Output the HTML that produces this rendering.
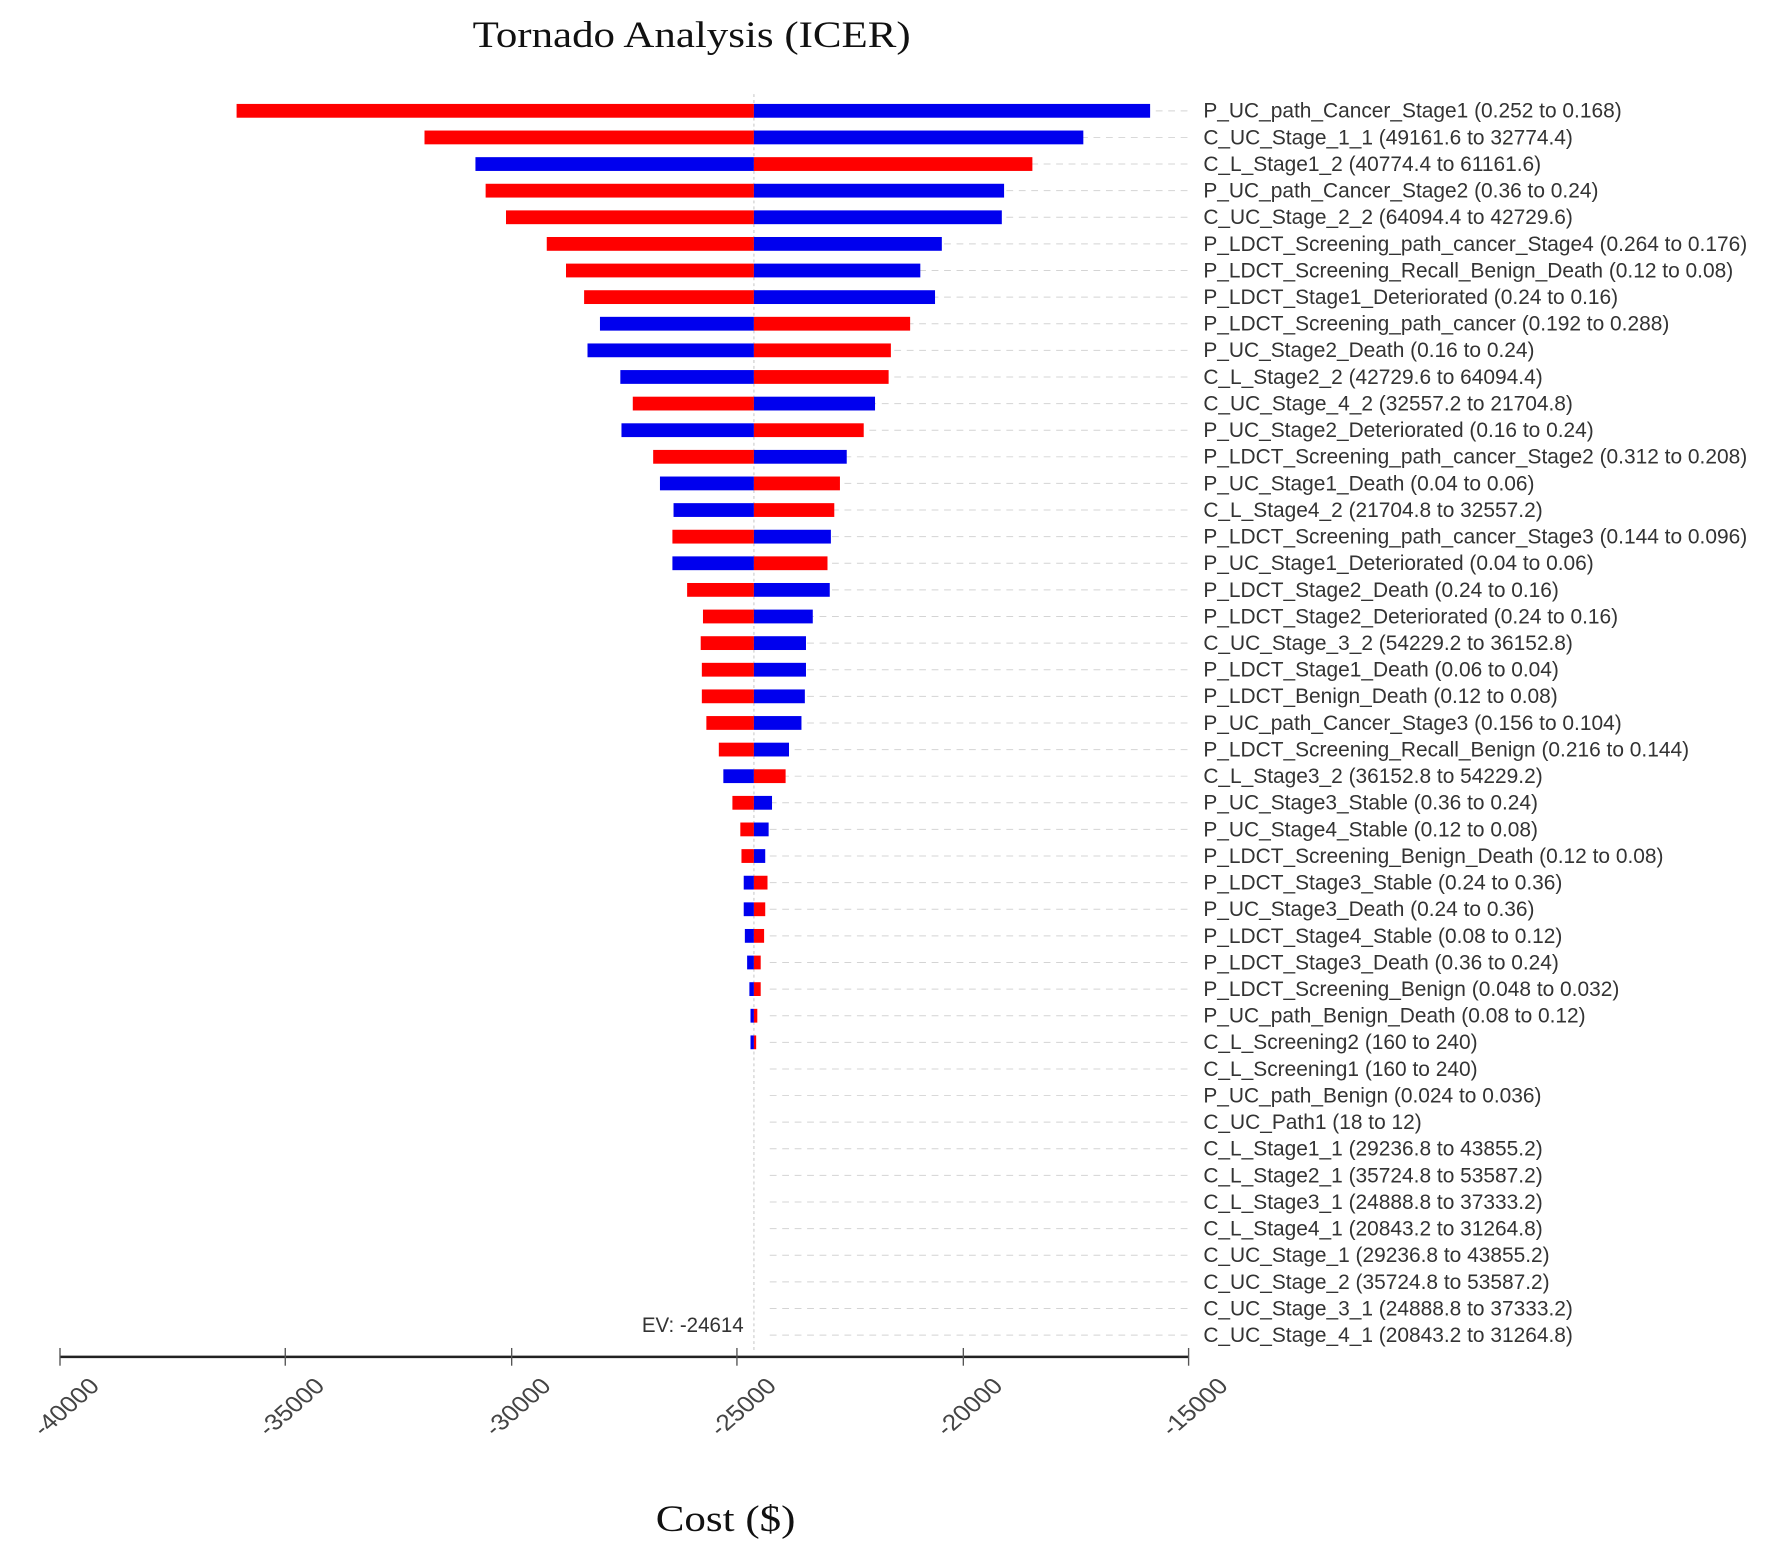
<!DOCTYPE html>
<html><head><meta charset="utf-8"><style>html,body{margin:0;padding:0;background:#fff}svg{display:block}</style></head>
<body>
<svg xmlns="http://www.w3.org/2000/svg" width="1772" height="1545" viewBox="0 0 1772 1545">
<rect width="1772" height="1545" fill="#fff"/>
<g transform="translate(0,0.5) scale(1.132,0.985)">
<text x="611" y="47" font-family="Liberation Serif, serif" font-size="38" text-anchor="middle" textLength="387" lengthAdjust="spacingAndGlyphs" fill="#111">Tornado Analysis (ICER)</text>
<line x1="666" y1="95" x2="666" y2="1370" stroke="#ccc" stroke-width="1" stroke-dasharray="3 3"/>
<g stroke="#d4d4d4" stroke-width="1" stroke-dasharray="6 5" id="grid"></g>
<g id="bars"></g>
<g id="labels" font-family="Liberation Sans, sans-serif" font-size="22" fill="#333"></g>
<line x1="53" y1="1377" x2="1050" y2="1377" stroke="#222" stroke-width="2.5"/>
<g stroke="#555" stroke-width="1.2">
<line x1="53" y1="1368" x2="53" y2="1386"/><line x1="252" y1="1368" x2="252" y2="1386"/><line x1="452" y1="1368" x2="452" y2="1386"/><line x1="651" y1="1368" x2="651" y2="1386"/><line x1="851" y1="1368" x2="851" y2="1386"/><line x1="1050" y1="1368" x2="1050" y2="1386"/>
</g>
<g font-family="Liberation Sans, sans-serif" font-size="23" fill="#444" text-anchor="end">
<text transform="translate(89,1408) rotate(-45)">-40000</text>
<text transform="translate(288,1408) rotate(-45)">-35000</text>
<text transform="translate(488,1408) rotate(-45)">-30000</text>
<text transform="translate(687,1408) rotate(-45)">-25000</text>
<text transform="translate(887,1408) rotate(-45)">-20000</text>
<text transform="translate(1086,1408) rotate(-45)">-15000</text>
</g>
<text x="612" y="1352" font-family="Liberation Sans, sans-serif" font-size="22" fill="#333" text-anchor="middle" textLength="90" lengthAdjust="spacingAndGlyphs">EV: -24614</text>
<text x="641" y="1554" font-family="Liberation Serif, serif" font-size="38" text-anchor="middle" fill="#111">Cost ($)</text>
</g>
<script>
var rows=[
["P_UC_path_Cancer_Stage1 (0.252 to 0.168)",209,1016,"r"],
["C_UC_Stage_1_1 (49161.6 to 32774.4)",375,957,"r"],
["C_L_Stage1_2 (40774.4 to 61161.6)",420,912,"b"],
["P_UC_path_Cancer_Stage2 (0.36 to 0.24)",429,887,"r"],
["C_UC_Stage_2_2 (64094.4 to 42729.6)",447,885,"r"],
["P_LDCT_Screening_path_cancer_Stage4 (0.264 to 0.176)",483,832,"r"],
["P_LDCT_Screening_Recall_Benign_Death (0.12 to 0.08)",500,813,"r"],
["P_LDCT_Stage1_Deteriorated (0.24 to 0.16)",516,826,"r"],
["P_LDCT_Screening_path_cancer (0.192 to 0.288)",530,804,"b"],
["P_UC_Stage2_Death (0.16 to 0.24)",519,787,"b"],
["C_L_Stage2_2 (42729.6 to 64094.4)",548,785,"b"],
["C_UC_Stage_4_2 (32557.2 to 21704.8)",559,773,"r"],
["P_UC_Stage2_Deteriorated (0.16 to 0.24)",549,763,"b"],
["P_LDCT_Screening_path_cancer_Stage2 (0.312 to 0.208)",577,748,"r"],
["P_UC_Stage1_Death (0.04 to 0.06)",583,742,"b"],
["C_L_Stage4_2 (21704.8 to 32557.2)",595,737,"b"],
["P_LDCT_Screening_path_cancer_Stage3 (0.144 to 0.096)",594,734,"r"],
["P_UC_Stage1_Deteriorated (0.04 to 0.06)",594,731,"b"],
["P_LDCT_Stage2_Death (0.24 to 0.16)",607,733,"r"],
["P_LDCT_Stage2_Deteriorated (0.24 to 0.16)",621,718,"r"],
["C_UC_Stage_3_2 (54229.2 to 36152.8)",619,712,"r"],
["P_LDCT_Stage1_Death (0.06 to 0.04)",620,712,"r"],
["P_LDCT_Benign_Death (0.12 to 0.08)",620,711,"r"],
["P_UC_path_Cancer_Stage3 (0.156 to 0.104)",624,708,"r"],
["P_LDCT_Screening_Recall_Benign (0.216 to 0.144)",635,697,"r"],
["C_L_Stage3_2 (36152.8 to 54229.2)",639,694,"b"],
["P_UC_Stage3_Stable (0.36 to 0.24)",647,682,"r"],
["P_UC_Stage4_Stable (0.12 to 0.08)",654,679,"r"],
["P_LDCT_Screening_Benign_Death (0.12 to 0.08)",655,676,"r"],
["P_LDCT_Stage3_Stable (0.24 to 0.36)",657,678,"b"],
["P_UC_Stage3_Death (0.24 to 0.36)",657,676,"b"],
["P_LDCT_Stage4_Stable (0.08 to 0.12)",658,675,"b"],
["P_LDCT_Stage3_Death (0.36 to 0.24)",660,672,"b"],
["P_LDCT_Screening_Benign (0.048 to 0.032)",662,672,"b"],
["P_UC_path_Benign_Death (0.08 to 0.12)",663,669,"b"],
["C_L_Screening2 (160 to 240)",663,668,"b"],
["C_L_Screening1 (160 to 240)",0,0,""],
["P_UC_path_Benign (0.024 to 0.036)",0,0,""],
["C_UC_Path1 (18 to 12)",0,0,""],
["C_L_Stage1_1 (29236.8 to 43855.2)",0,0,""],
["C_L_Stage2_1 (35724.8 to 53587.2)",0,0,""],
["C_L_Stage3_1 (24888.8 to 37333.2)",0,0,""],
["C_L_Stage4_1 (20843.2 to 31264.8)",0,0,""],
["C_UC_Stage_1 (29236.8 to 43855.2)",0,0,""],
["C_UC_Stage_2 (35724.8 to 53587.2)",0,0,""],
["C_UC_Stage_3_1 (24888.8 to 37333.2)",0,0,""],
["C_UC_Stage_4_1 (20843.2 to 31264.8)",0,0,""]];
var NS="http://www.w3.org/2000/svg",C=666,R="#ff0000",B="#0000ee";
var g=document.getElementById("grid"),bg=document.getElementById("bars"),lg=document.getElementById("labels");
function el(p,t,a){var e=document.createElementNS(NS,t);for(var k in a)e.setAttribute(k,a[k]);p.appendChild(e);return e;}
rows.forEach(function(r,i){var y=112+i*27.02;
el(g,"line",{x1:680,y1:y,x2:1050,y2:y});
if(r[3]){var lc=r[3]=="r"?R:B,rc=r[3]=="r"?B:R;
el(bg,"rect",{x:r[1],y:y-7,width:C-r[1],height:14,fill:lc});
el(bg,"rect",{x:C,y:y-7,width:r[2]-C,height:14,fill:rc});}
var t=el(lg,"text",{x:0,y:0,transform:"translate(1063,"+(y+7)+") scale(0.84,1)"});t.textContent=r[0];});
</script>
</svg>
</body></html>
